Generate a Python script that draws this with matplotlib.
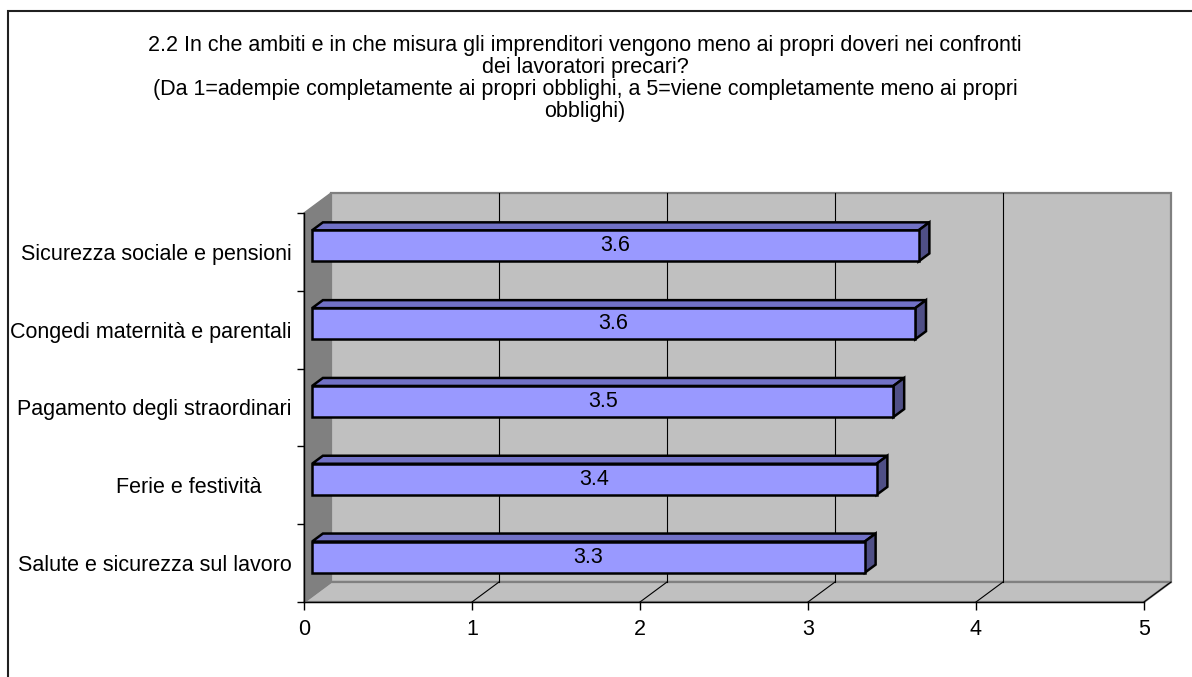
import matplotlib
matplotlib.use("Agg")
import matplotlib.pyplot as plt
from matplotlib.patches import Polygon, Rectangle
from matplotlib.lines import Line2D
from matplotlib.transforms import Affine2D, IdentityTransform

# ---------------- data ----------------
categories = [
    "Salute e sicurezza sul lavoro",
    "Ferie e festività     ",
    "Pagamento degli straordinari",
    "Congedi maternità e parentali",
    "Sicurezza sociale e pensioni",
]
values = [3.29, 3.36, 3.46, 3.59, 3.61]
xticks = [0, 1, 2, 3, 4, 5]
title_lines = [
    "2.2 In che ambiti e in che misura gli imprenditori vengono meno ai propri doveri nei confronti",
    "dei lavoratori precari?",
    "(Da 1=adempie completamente ai propri obblighi, a 5=viene completamente meno ai propri",
    "obblighi)",
]

# ---------------- style ----------------
FONT = "Liberation Sans"
FS = 15.5
W, H = 1192, 677
DX, DY = 27, 20          # depth offset in pixels
F1, F2 = 0.30, 0.70      # bar front / back depth fractions
BAR_H = 0.40
C_FRONT = "#9999FF"
C_TOP = "#7171C6"
C_SIDE = "#4F4F86"
C_WALL = "#C0C0C0"
C_LWALL = "#808080"

plt.rcParams["font.family"] = [FONT, "DejaVu Sans"]

fig = plt.figure(figsize=(W / 100, H / 100), dpi=100)
fig.patch.set_facecolor("white")

ax = fig.add_axes([304 / W, (H - 602) / H, 840 / W, 389 / H])
ax.set_xlim(0, 5)
ax.set_ylim(-0.5, len(categories) - 0.5)
ax.patch.set_visible(False)
for s in ("top", "right"):
    ax.spines[s].set_visible(False)
for s in ("left", "bottom"):
    ax.spines[s].set_color("black")
    ax.spines[s].set_linewidth(1.0)
    ax.spines[s].set_zorder(6)

ymin, ymax = ax.get_ylim()
xmin, xmax = ax.get_xlim()


def D(x, y, d):
    px, py = ax.transData.transform((x, y))
    return (px + DX * d, py + DY * d)


def poly(pts, **kw):
    p = Polygon(pts, closed=True, transform=IdentityTransform(), clip_on=False, **kw)
    ax.add_patch(p)
    return p


def line(p1, p2, **kw):
    l = Line2D([p1[0], p2[0]], [p1[1], p2[1]], transform=IdentityTransform(),
               clip_on=False, **kw)
    ax.add_line(l)


# back wall
poly([D(xmin, ymin, 1), D(xmax, ymin, 1), D(xmax, ymax, 1), D(xmin, ymax, 1)],
     facecolor=C_WALL, edgecolor=C_LWALL, linewidth=1.6, zorder=1)
# floor
poly([D(xmin, ymin, 0), D(xmax, ymin, 0), D(xmax, ymin, 1), D(xmin, ymin, 1)],
     facecolor=C_WALL, edgecolor=C_LWALL, linewidth=1.6, zorder=1)
# left wall
poly([D(xmin, ymin, 0), D(xmin, ymax, 0), D(xmin, ymax, 1), D(xmin, ymin, 1)],
     facecolor=C_LWALL, edgecolor=C_LWALL, linewidth=1.0, zorder=1.2)

# gridlines
for k in xticks[1:-1]:
    line(D(k, ymin, 1), D(k, ymax, 1), color="black", linewidth=0.8, zorder=1.5)
for k in xticks[1:]:
    line(D(k, ymin, 0), D(k, ymin, 1), color="black", linewidth=0.8, zorder=1.5)

# bars
front_tr = ax.transData + Affine2D().translate(DX * F1, DY * F1)
ypos = list(range(len(categories)))
ax.barh(ypos, values, height=BAR_H, left=0, color=C_FRONT, edgecolor="black",
        linewidth=1.8, transform=front_tr, zorder=4)
for y, v in zip(ypos, values):
    top = y + BAR_H / 2
    bot = y - BAR_H / 2
    poly([D(0, top, F1), D(v, top, F1), D(v, top, F2), D(0, top, F2)],
         facecolor=C_TOP, edgecolor="black", linewidth=1.8, joinstyle="miter", zorder=3)
    poly([D(v, bot, F1), D(v, top, F1), D(v, top, F2), D(v, bot, F2)],
         facecolor=C_SIDE, edgecolor="black", linewidth=1.8, joinstyle="miter", zorder=3)
    ax.text(v / 2, y, f"{v:.1f}", transform=front_tr, ha="center", va="center",
            fontsize=FS, color="black", zorder=5)

# axes ticks
ax.set_xticks(xticks)
ax.set_xticklabels([str(t) for t in xticks], fontsize=FS)
ax.tick_params(axis="x", direction="out", length=6, width=1, color="black", pad=6)
ax.set_yticks(ypos)
ax.set_yticklabels(categories, fontsize=FS)
ax.tick_params(axis="y", which="major", length=0, pad=9)
ax.set_yticks([y + 0.5 for y in [-1] + ypos], minor=True)
ax.tick_params(axis="y", which="minor", direction="out", length=5, width=1, color="black")

# title
for i, t in enumerate(title_lines):
    fig.text(585 / W, 1 - (46 + 21.7 * i) / H, t, ha="center", va="center", fontsize=FS)

# chart border
fig.add_artist(Rectangle((8 / W, -0.05), 1.2, 1.05 - 11 / H, transform=fig.transFigure,
                         fill=False, edgecolor="#202020", linewidth=1.5))

fig.savefig("out.png", dpi=100)
